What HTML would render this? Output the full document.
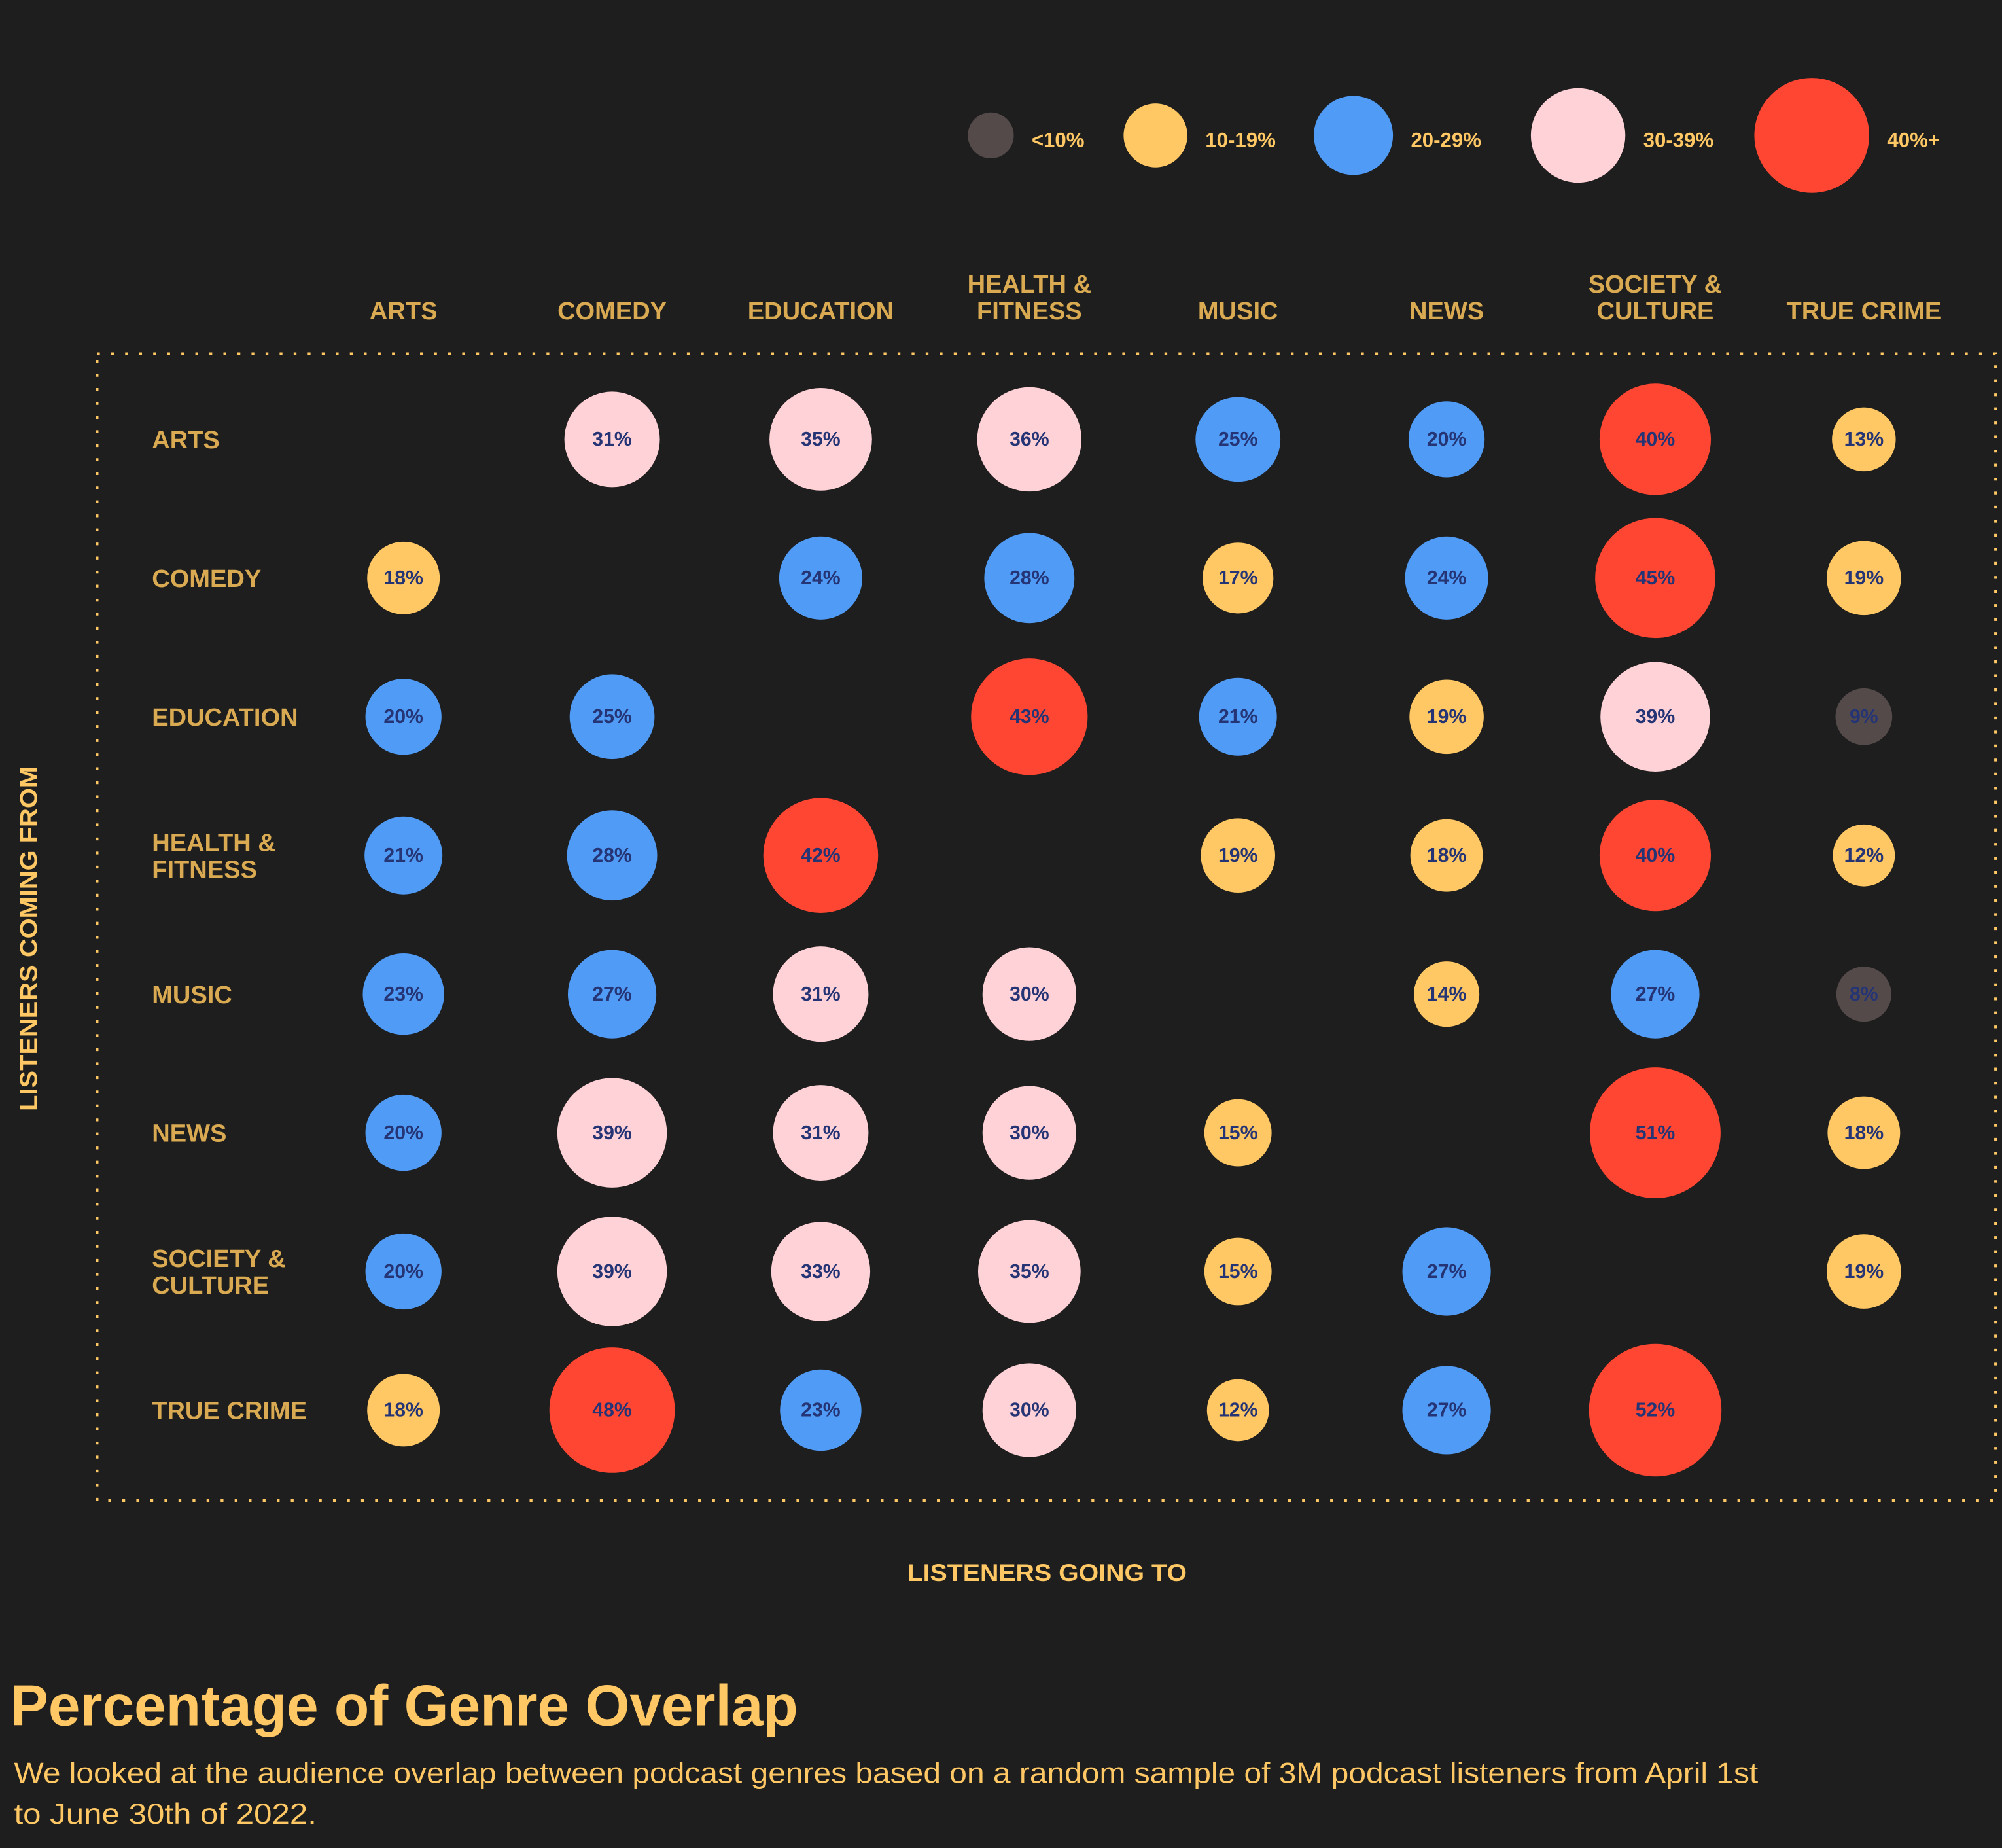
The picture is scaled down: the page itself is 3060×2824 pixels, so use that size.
<!DOCTYPE html>
<html><head><meta charset="utf-8">
<style>
html,body{margin:0;padding:0;background:#1e1e1e;}
svg{display:block;font-family:"Liberation Sans",sans-serif;}
</style></head>
<body>
<svg id="chart" width="3060" height="2824" viewBox="0 0 1568 1447" xmlns="http://www.w3.org/2000/svg">
<rect x="0" y="0" width="1568" height="1447" fill="#1e1e1e"/>
<rect x="76" y="277" width="1487" height="898" fill="none" stroke="#ffc864" stroke-width="2.2" stroke-dasharray="2.2 8.8"/>
<g id="legend"></g>
<g id="colHeads"></g>
<g id="rowHeads"></g>
<g id="cells"></g>
<text x="24" y="735" transform="rotate(-90 24 735)" text-anchor="middle" dominant-baseline="middle" font-size="19" font-weight="bold" fill="#ffc864" textLength="270" lengthAdjust="spacingAndGlyphs">LISTENERS COMING FROM</text>
<text x="820" y="1238" text-anchor="middle" font-size="19" font-weight="bold" fill="#ffc864" textLength="219" lengthAdjust="spacingAndGlyphs">LISTENERS GOING TO</text>
<text x="8" y="1351" font-size="45" font-weight="bold" fill="#ffc864" textLength="617" lengthAdjust="spacingAndGlyphs">Percentage of Genre Overlap</text>
<text x="11" y="1396" font-size="23" fill="#ffc864" textLength="1366" lengthAdjust="spacingAndGlyphs">We looked at the audience overlap between podcast genres based on a random sample of 3M podcast listeners from April 1st</text>
<text x="11" y="1428" font-size="23" fill="#ffc864" textLength="237" lengthAdjust="spacingAndGlyphs">to June 30th of 2022.</text>
</svg>
<script>
const genres = ["ARTS","COMEDY","EDUCATION","HEALTH & FITNESS","MUSIC","NEWS","SOCIETY & CULTURE","TRUE CRIME"];
const rowArts = [null,31,35,36,25,20,40,13];
const rowComedy = [18,null,24,28,17,24,45,19];
const rowEducation = [20,25,null,43,21,19,39,9];
const rowHealth = [21,28,42,null,19,18,40,12];
const rowMusic = [23,27,31,30,null,14,27,8];
const rowNews = [20,39,31,30,15,null,51,18];
const rowSociety = [20,39,33,35,15,27,null,19];
const rowTrueCrime = [18,48,23,30,12,27,52,null];
const legendLabels = ["<10%","10-19%","20-29%","30-39%","40%+"];

const rows = [rowArts,rowComedy,rowEducation,rowHealth,rowMusic,rowNews,rowSociety,rowTrueCrime];
const NS = "http://www.w3.org/2000/svg";
const colX = i => 316 + i*163.4;
const rowY = i => 344 + i*108.6;
const rad = v => 16 + 0.69*v;
const colorFor = v => v < 10 ? "#544a4a" : v < 20 ? "#ffc864" : v < 30 ? "#509bf5" : v < 40 ? "#ffd2d7" : "#ff4632";
function mk(tag, attrs, parent){const e=document.createElementNS(NS,tag);for(const k in attrs)e.setAttribute(k,attrs[k]);parent.appendChild(e);return e;}
function lines(label){const p=label.split(" & ");return p.length>1?[p[0]+" &",p[1]]:[label];}

const colG=document.getElementById("colHeads");
genres.forEach((g,i)=>{
  const ls=lines(g);
  ls.forEach((l,j)=>{
    const t=mk("text",{x:colX(i),y:250-(ls.length-1-j)*21,"text-anchor":"middle","font-size":19.5,"font-weight":"bold",fill:"#d9aa52"},colG);
    
    
    t.textContent=l;
  });
});
const rowG=document.getElementById("rowHeads");
genres.forEach((g,i)=>{
  const ls=lines(g);
  ls.forEach((l,j)=>{
    const t=mk("text",{x:119,y:rowY(i)+7-(ls.length-1)*10.5+j*21,"font-size":19.5,"font-weight":"bold",fill:"#d9aa52"},rowG);
    
    
    t.textContent=l;
  });
});
const cellG=document.getElementById("cells");
rows.forEach((r,i)=>{
  r.forEach((v,j)=>{
    if(v===null)return;
    const c=mk("circle",{cx:colX(j),cy:rowY(i),r:rad(v),fill:colorFor(v)},cellG);
    
    
    const t=mk("text",{x:colX(j),y:rowY(i)+5,"text-anchor":"middle","font-size":15.5,"font-weight":"bold",fill:"#243475"},cellG);
    
    
    t.textContent=v+"%";
  });
});
const legG=document.getElementById("legend");
const legX=[776,905,1060,1236,1419];
const legR=[18,25,31,37,45];
const legV=[5,15,25,35,45];
legendLabels.forEach((l,i)=>{
  const c=mk("circle",{cx:legX[i],cy:106,r:legR[i],fill:colorFor(legV[i])},legG);
  
  
  const t=mk("text",{x:legX[i]+legR[i]+14,y:115,"font-size":16,"font-weight":"bold",fill:"#ffc864"},legG);
  
  
  t.textContent=l;
});
</script>
</body></html>
